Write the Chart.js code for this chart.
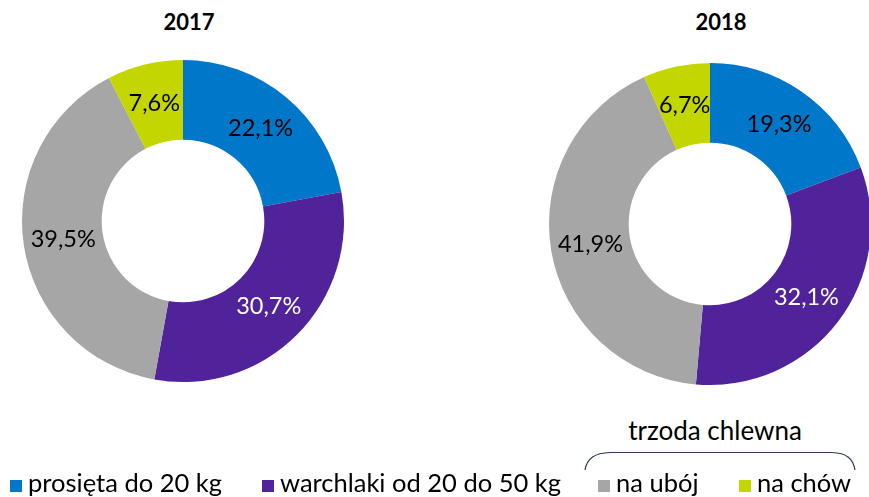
<!DOCTYPE html>
<html>
<head>
<meta charset="utf-8">
<script src="https://cdn.jsdelivr.net/npm/chart.js@4/dist/chart.umd.min.js"></script>
<style>
  html, body { margin: 0; padding: 0; background: #fff; }
  body { width: 869px; height: 497px; overflow: hidden; position: relative; font-family: Lato, "Open Sans", sans-serif; }
  canvas { position: absolute; }
  .title { position: absolute; font-weight: bold; font-size: 22px; color: #000; top: 8px; width: 120px; text-align: center; }
  .leg { position: absolute; top: 467px; font-size: 25.5px; color: #000; white-space: nowrap; }
  .sw { position: absolute; width: 12px; height: 12px; top: 480px; }
  #group { position: absolute; left: 560px; top: 414px; width: 310px; text-align: center; font-size: 26px; color: #000; }
  svg { position: absolute; left: 0; top: 0; }
</style>
</head>
<body>
<div class="title" id="t0"></div>
<div class="title" id="t1"></div>
<canvas id="c0" width="330" height="330" style="left:18px; top:56px"></canvas>
<canvas id="c1" width="330" height="330" style="left:545px; top:59px"></canvas>
<div id="group">trzoda chlewna</div>
<svg width="869" height="497"><path d="M585 470 C 587 458, 595 453, 610 452.5 L 832 452.5 C 846 453, 853 458, 855 470" fill="none" stroke="#2b3a5a" stroke-width="1.2"/></svg>
<div id="legend"></div>
<script>
const years = ['2017', '2018'];
const categories = ['prosięta do 20 kg', 'warchlaki od 20 do 50 kg', 'na ubój', 'na chów'];
const values2017 = [22.1, 30.7, 39.5, 7.6];
const values2018 = [19.3, 32.1, 41.9, 6.7];
const colors = ['#0077C8', '#51239A', '#A6A6A6', '#C4D600'];
const labelColors = ['#000000', '#ffffff', '#000000', '#000000'];

const titlePos = [{left: 129}, {left: 661}];
years.forEach((y, i) => {
  const t = document.getElementById('t' + i);
  t.textContent = y;
  t.style.left = titlePos[i].left + 'px';
});

const legendPos = [[10, 28], [262, 280], [598, 616], [739, 757]];
const legend = document.getElementById('legend');
categories.forEach((c, i) => {
  const sw = document.createElement('div');
  sw.className = 'sw';
  sw.style.left = legendPos[i][0] + 'px';
  sw.style.background = colors[i];
  legend.appendChild(sw);
  const tx = document.createElement('div');
  tx.className = 'leg';
  tx.style.left = legendPos[i][1] + 'px';
  tx.textContent = c;
  legend.appendChild(tx);
});

const labelPlugin = {
  id: 'sliceLabels',
  afterDatasetsDraw(chart) {
    const ctx = chart.ctx;
    const meta = chart.getDatasetMeta(0);
    const data = chart.data.datasets[0].data;
    ctx.save();
    ctx.font = '23.5px Lato, "Open Sans", sans-serif';
    ctx.textAlign = 'center';
    ctx.textBaseline = 'middle';
    meta.data.forEach((arc, i) => {
      const p = arc.tooltipPosition();
      ctx.fillStyle = labelColors[i];
      ctx.fillText(data[i].toFixed(1).replace('.', ',') + '%', p.x, p.y);
    });
    ctx.restore();
  }
};

[values2017, values2018].forEach((vals, i) => {
  new Chart(document.getElementById('c' + i), {
    type: 'doughnut',
    data: {
      labels: categories,
      datasets: [{ data: vals, backgroundColor: colors, borderWidth: 0 }]
    },
    options: {
      responsive: false,
      animation: false,
      cutout: '50.5%',
      layout: { padding: 4 },
      plugins: { legend: { display: false }, tooltip: { enabled: false } }
    },
    plugins: [labelPlugin]
  });
});
</script>
</body>
</html>
